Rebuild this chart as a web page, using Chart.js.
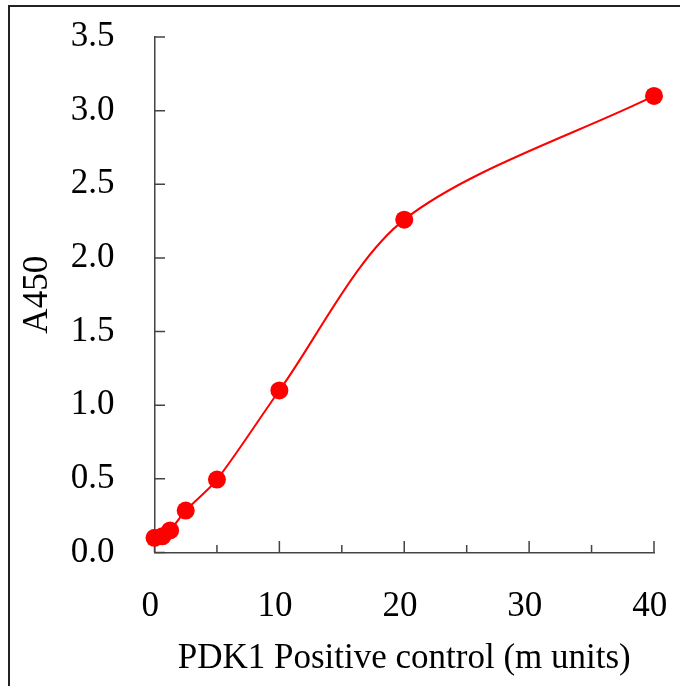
<!DOCTYPE html>
<html>
<head>
<meta charset="utf-8">
<script src="https://cdn.jsdelivr.net/npm/chart.js@4.4.1/dist/chart.umd.min.js"></script>
<style>
  html, body { margin: 0; padding: 0; background: #ffffff; }
  #wrap { width: 680px; height: 686px; position: relative; }
</style>
</head>
<body>
<div id="wrap"><canvas id="c" width="680" height="686"></canvas></div>
<script>
// ---- data ----
const concentrations = [0, 0.625, 1.25, 2.5, 5, 10, 20, 40];      // PDK1 (m units)
const absorbance     = [0.10, 0.11, 0.15, 0.285, 0.495, 1.10, 2.26, 3.10]; // A450
const xTickValues = [0, 10, 20, 30, 40];
const xMinorTickValues = [5, 15, 25, 35];
const yTickValues = [0, 0.5, 1.0, 1.5, 2.0, 2.5, 3.0, 3.5];
const xTitle = 'PDK1 Positive control (m units)';
const yTitle = 'A450';

const FONT = "'Times New Roman', 'Liberation Serif', serif";
const FONT_SIZE = 35;
const AXIS_COLOR = '#444444';

const points = concentrations.map((x, i) => ({ x: x, y: absorbance[i] }));

const framePlugin = {
  id: 'frame',
  beforeDraw(chart) {
    const ctx = chart.ctx;
    ctx.save();
    ctx.strokeStyle = '#222222';
    ctx.lineWidth = 2;
    ctx.beginPath();
    ctx.moveTo(9, 700);
    ctx.lineTo(9, 6);
    ctx.lineTo(700, 6);
    ctx.stroke();
    ctx.restore();
  }
};

const inwardTicks = {
  id: 'inwardTicks',
  beforeDatasetsDraw(chart) {
    const ctx = chart.ctx;
    const xs = chart.scales.x, ys = chart.scales.y;
    const x0 = xs.getPixelForValue(0);
    const yBase = ys.getPixelForValue(0);
    ctx.save();
    ctx.strokeStyle = AXIS_COLOR;
    ctx.lineWidth = 1.5;
    ctx.beginPath();
    yTickValues.forEach(v => {
      const py = ys.getPixelForValue(v);
      ctx.moveTo(x0, py);
      ctx.lineTo(x0 + 10.5, py);
    });
    xTickValues.forEach(v => {
      const px = xs.getPixelForValue(v);
      ctx.moveTo(px, yBase);
      ctx.lineTo(px, yBase - 11.5);
    });
    xMinorTickValues.forEach(v => {
      const px = xs.getPixelForValue(v);
      ctx.moveTo(px, yBase);
      ctx.lineTo(px, yBase - 7.5);
    });
    ctx.stroke();
    ctx.restore();
  }
};

function zeroPadding(scale) {
  scale.paddingTop = 0;
  scale.paddingBottom = 0;
  scale.paddingLeft = 0;
  scale.paddingRight = 0;
}

new Chart(document.getElementById('c'), {
  type: 'line',
  data: {
    datasets: [{
      data: points,
      borderColor: '#ff0000',
      backgroundColor: '#ff0000',
      borderWidth: 2,
      pointRadius: 9,
      pointHoverRadius: 9,
      pointBorderWidth: 0,
      pointBackgroundColor: '#ff0000',
      tension: 0.3,
      fill: false,
      clip: false
    }]
  },
  options: {
    responsive: false,
    animation: false,
    events: [],
    layout: { padding: { top: 37, right: 26, bottom: 0, left: 0 } },
    plugins: { legend: { display: false }, tooltip: { enabled: false } },
    scales: {
      x: {
        type: 'linear',
        min: 0,
        max: 40,
        afterFit(scale) { scale.height = 133.5; zeroPadding(scale); },
        afterBuildTicks(scale) { scale.ticks = xTickValues.map(v => ({ value: v })); },
        grid: { display: false, drawTicks: false },
        border: { display: true, color: AXIS_COLOR, width: 1.5 },
        ticks: {
          padding: 33,
          color: '#000000',
          font: { family: FONT, size: FONT_SIZE },
          maxRotation: 0,
          callback: v => String(v) + ' '
        },
        title: {
          display: true,
          text: xTitle,
          color: '#000000',
          font: { family: FONT, size: FONT_SIZE },
          padding: { top: 0, bottom: 6 }
        }
      },
      y: {
        type: 'linear',
        min: 0,
        max: 3.5,
        afterFit(scale) { scale.width = 154.5; zeroPadding(scale); },
        afterBuildTicks(scale) { scale.ticks = yTickValues.map(v => ({ value: v })); },
        grid: { display: false, drawTicks: false },
        border: { display: true, color: AXIS_COLOR, width: 1.5 },
        ticks: {
          padding: 40,
          color: '#000000',
          font: { family: FONT, size: FONT_SIZE },
          callback: v => Number(v).toFixed(1)
        },
        title: {
          display: true,
          text: yTitle,
          color: '#000000',
          font: { family: FONT, size: FONT_SIZE },
          padding: { top: 17, bottom: 0 }
        }
      }
    }
  },
  plugins: [framePlugin, inwardTicks]
});
</script>
</body>
</html>
